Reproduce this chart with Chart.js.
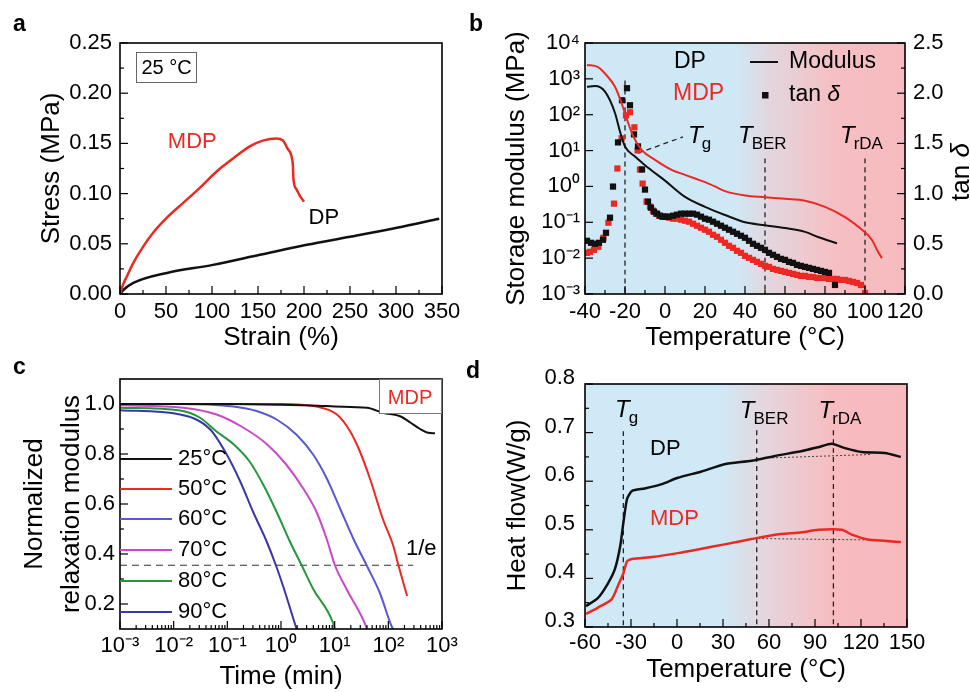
<!DOCTYPE html>
<html>
<head>
<meta charset="utf-8">
<title>Mechanical and thermal data</title>
<script src="https://cdn.jsdelivr.net/npm/chart.js@4.4.1/dist/chart.umd.min.js"></script>
<style>
  html, body { margin: 0; padding: 0; background: #fff; }
  #page { position: relative; width: 970px; height: 692px; overflow: hidden; }
  #page canvas { position: absolute; left: 0; top: 0; }
</style>
</head>
<body>
<div id="page">
  <canvas id="chartA" width="970" height="692"></canvas>
  <canvas id="chartB" width="970" height="692"></canvas>
  <canvas id="chartC" width="970" height="692"></canvas>
  <canvas id="chartD" width="970" height="692"></canvas>
</div>
<script>
// ---------- a: stress-strain at 25 C ----------
const mdpStrain = [0, 3.6, 7.2, 14.5, 25, 36, 51, 69, 87, 105, 123, 141, 156, 170, 177, 182, 187, 188, 188.5, 192, 196, 200];
const mdpStress = [0, 0.010, 0.017, 0.031, 0.047, 0.061, 0.076, 0.091, 0.106, 0.122, 0.135, 0.147, 0.153, 0.155, 0.153, 0.145, 0.135, 0.127, 0.115, 0.104, 0.097, 0.092];
const dpStrain = [0, 3.6, 14.5, 51, 101, 152, 203, 250, 301, 347];
const dpStress = [0, 0.004, 0.011, 0.021, 0.029, 0.039, 0.049, 0.057, 0.066, 0.075];

// ---------- b: DMA, storage modulus (MPa) and tan delta ----------
const dpModT = [-39, -35, -30, -25, -22.5, -20, -15, -11.5, -6.5, 0, 10, 20, 30, 40, 50, 60, 70, 76.5, 86];
const dpMod = [600, 630, 440, 112, 34, 13, 6.8, 4.6, 2.75, 1.45, 0.51, 0.27, 0.16, 0.10, 0.083, 0.069, 0.054, 0.039, 0.026];
const mdpModT = [-39, -33.5, -30, -25, -21.7, -19.2, -15.8, -11.7, -5, 3.3, 10, 15, 20, 25, 30, 40, 50, 60, 70, 80, 90, 98.5, 103.5, 106.5, 108.5];
const mdpMod = [2450, 2140, 1410, 600, 209, 79, 24.5, 10.5, 5.5, 2.9, 2.1, 1.66, 1.32, 1.0, 0.74, 0.56, 0.50, 0.45, 0.40, 0.27, 0.14, 0.062, 0.032, 0.015, 0.010];
const dpTanT = [-39, -37, -35, -33, -31, -29.5, -27.5, -26, -23.5, -21.5, -19, -17.5, -15.5, -13.5, -11.5, -10, -8.5, -7, -5.5, -4, -2.5, -1, 0.5,
  2, 4, 6, 8, 10, 12, 14, 16, 18, 20, 22, 24, 26, 28, 30, 32, 34, 36, 38, 40, 42, 44, 46, 48, 50, 52, 54, 56, 58, 60, 62, 64, 66, 68, 70, 72, 74, 76, 78, 80, 82, 85];
const dpTan = [0.53, 0.51, 0.50, 0.51, 0.54, 0.61, 0.76, 1.07, 1.51, 1.93, 2.05, 1.88, 1.59, 1.47, 1.24, 1.04, 0.92, 0.86, 0.82, 0.80, 0.78, 0.77, 0.77,
  0.77, 0.78, 0.79, 0.80, 0.80, 0.80, 0.80, 0.79, 0.77, 0.75, 0.74, 0.72, 0.70, 0.68, 0.66, 0.64, 0.62, 0.60, 0.58, 0.56, 0.53, 0.50, 0.48, 0.46, 0.44, 0.41, 0.39, 0.37, 0.35, 0.34, 0.32, 0.31, 0.29, 0.28, 0.27, 0.26, 0.25, 0.24, 0.23, 0.22, 0.21, 0.09];
const mdpTanT = [-39, -37.5, -35.5, -33.3, -30.8, -28.3, -25.5, -23.8, -21.7, -19.5, -17.5, -15.3, -13.7, -12.5, -11.2, -9.2, -7.5, -6, -4.5, -3, -1.5, 0,
  2, 4, 6, 8, 10, 12, 14, 16, 18, 20, 22, 24, 26, 28, 30, 32, 34, 36, 38, 40, 42, 44, 46, 48, 50, 52, 54, 56, 58, 60,
  62, 64, 66, 68, 70, 72, 74, 76, 78, 80, 82, 84, 86, 88, 90, 92, 94, 96, 98, 100];
const mdpTan = [0.41, 0.42, 0.44, 0.47, 0.56, 0.71, 0.90, 1.25, 1.55, 1.78, 1.81, 1.66, 1.43, 1.24, 1.10, 0.92, 0.87, 0.83, 0.80, 0.78, 0.77, 0.77,
  0.76, 0.75, 0.75, 0.74, 0.73, 0.72, 0.70, 0.68, 0.66, 0.64, 0.62, 0.59, 0.57, 0.54, 0.51, 0.48, 0.46, 0.43, 0.41, 0.38,
  0.36, 0.34, 0.32, 0.30, 0.28, 0.27, 0.25, 0.24, 0.23, 0.22, 0.21, 0.20, 0.19, 0.18, 0.18, 0.17, 0.17, 0.16, 0.16, 0.16,
  0.15, 0.15, 0.15, 0.14, 0.14, 0.13, 0.12, 0.11, 0.09, 0.01];
const bGuideT = [-20, 50, 100];          // Tg, TBER, TrDA
const bGuideTop = [900, 6, 6];           // MPa
const bLeaderT = [-13.5, 9];
const bLeaderMod = [8.5, 24];

// ---------- c: stress relaxation of MDP ----------
const relaxLabels = ['25°C', '50°C', '60°C', '70°C', '80°C', '90°C'];
const relaxColors = ['#111111', '#ea2a22', '#5858d2', '#c84ac8', '#23983a', '#3838a4'];
const relaxTime = [
  [0.001, 0.01, 0.1, 1, 5, 10, 40, 80, 170, 260, 390, 550, 740],
  [0.001, 0.01, 0.1, 1, 4.6, 11, 19.5, 29.5, 45.7, 79, 123, 155, 224],
  [0.001, 0.01, 0.13, 0.35, 0.83, 1.95, 4.0, 7.1, 12.6, 22.4, 39.8, 69, 115, 123],
  [0.001, 0.015, 0.063, 0.2, 0.54, 1.26, 2.63, 4.6, 7.1, 10.2, 16.6, 33.9, 40],
  [0.001, 0.0132, 0.031, 0.063, 0.129, 0.26, 0.47, 0.83, 1.48, 2.45, 3.98, 9.3, 10],
  [0.001, 0.0132, 0.048, 0.098, 0.174, 0.30, 0.54, 0.81, 1.1, 1.95]
];
const relaxModulus = [
  [1.0, 1.0, 1.0, 0.997, 0.993, 0.99, 0.985, 0.965, 0.95, 0.925, 0.90, 0.885, 0.883],
  [1.0, 1.0, 1.0, 1.0, 0.99, 0.958, 0.89, 0.81, 0.70, 0.54, 0.434, 0.353, 0.232],
  [1.0, 1.0, 0.99, 0.972, 0.938, 0.877, 0.797, 0.703, 0.582, 0.46, 0.353, 0.246, 0.111, 0.10],
  [0.995, 0.985, 0.958, 0.905, 0.84, 0.757, 0.66, 0.568, 0.46, 0.353, 0.26, 0.138, 0.10],
  [0.985, 0.974, 0.945, 0.89, 0.84, 0.77, 0.676, 0.568, 0.448, 0.353, 0.26, 0.125, 0.10],
  [0.975, 0.958, 0.898, 0.797, 0.69, 0.57, 0.45, 0.353, 0.27, 0.10]
];
const eLineTime = [0.001, 290];
const eLineLevel = [0.355, 0.355];

// ---------- d: DSC heat flow ----------
const dscDpT = [-59.3, -51.5, -45, -40.4, -37, -35, -32.6, -29.3, -21, -10, 0.5, 16, 31, 48.6, 64, 81.6, 92, 101, 109.6, 120.7, 135.7, 146];
const dscDp = [0.343, 0.36, 0.39, 0.42, 0.467, 0.514, 0.563, 0.58, 0.585, 0.594, 0.607, 0.62, 0.635, 0.642, 0.652, 0.662, 0.67, 0.677, 0.668, 0.66, 0.658, 0.65];
const dscMdpT = [-59.3, -51.5, -42.6, -38.5, -35, -32.6, -29.3, -16.2, 0.5, 16, 31, 48.6, 64, 81.6, 92, 107.5, 114, 124.5, 146];
const dscMdp = [0.327, 0.34, 0.357, 0.385, 0.41, 0.435, 0.44, 0.444, 0.452, 0.461, 0.47, 0.481, 0.49, 0.495, 0.50, 0.50, 0.49, 0.48, 0.475];
const dpBaseT = [62, 127], dpBase = [0.648, 0.655];
const mdpBaseT = [53, 129], mdpBase = [0.482, 0.479];
const dGuideT = [-35, 52, 102];
const dGuideTop = [0.703, 0.705, 0.705];

// ---------- helpers ----------
const FONT = '"Liberation Sans", Arial, Helvetica, sans-serif';
const W = 970, H = 692;
const RED = '#ea2a22', BLACK = '#111111';
Chart.defaults.font.family = FONT;
Chart.defaults.color = '#000';

const SUP = { '0': '⁰', '1': '¹', '2': '²', '3': '³', '4': '⁴', '5': '⁵', '6': '⁶', '7': '⁷', '8': '⁸', '9': '⁹', '-': '⁻' };
const pow10 = v => '10' + String(Math.round(Math.log10(v))).split('').map(c => SUP[c]).join('');
const pts = (xs, ys) => xs.map((x, i) => ({ x, y: ys[i] }));
const decades = (a, b) => { const out = []; for (let e = a; e <= b; e++) out.push(Math.pow(10, e)); return out; };
const logMinor = (a, b) => { const out = []; for (let e = a; e < b; e++) for (let m = 2; m <= 9; m++) out.push(m * Math.pow(10, e)); return out; };
const steps = (a, b, s) => { const out = []; for (let v = a; v <= b + 1e-9; v += s) out.push(+v.toFixed(4)); return out; };

const fixW = w => s => { s.width = w; s.paddingTop = 0; s.paddingBottom = 0; };
const fixH = h => s => { s.height = h; s.paddingLeft = 0; s.paddingRight = 0; };
const setTicks = vals => s => { s.ticks = vals.map(v => ({ value: v })); };
const off = () => ({ grid: { display: false, drawTicks: false }, border: { display: false } });

function text(ctx, str, x, y, o = {}) {
  ctx.font = `${o.style || ''} ${o.size || 22}px ${FONT}`;
  ctx.fillStyle = o.color || '#000';
  ctx.textAlign = o.align || 'left';
  ctx.textBaseline = o.base || 'middle';
  ctx.fillText(str, x, y);
}
function tLabel(ctx, x, y, sub) {
  text(ctx, 'T', x, y, { style: 'italic', size: 24, base: 'alphabetic' });
  const w = ctx.measureText('T').width;
  text(ctx, sub, x + w - 1, y + 6, { size: 17, base: 'alphabetic' });
}

function baseOptions(pad, scales) {
  return {
    responsive: false, animation: false, devicePixelRatio: 1,
    layout: { padding: pad },
    plugins: { legend: { display: false }, tooltip: { enabled: false } },
    elements: { point: { radius: 0 }, line: { cubicInterpolationMode: 'monotone' } },
    scales
  };
}

// frame box plus inward major / minor tick marks
function framePlugin(minor) {
  return {
    id: 'frame',
    afterDraw(chart) {
      const { ctx, chartArea: a } = chart;
      ctx.save();
      ctx.strokeStyle = '#000';
      ctx.lineWidth = 1.2;
      Object.values(chart.scales).forEach(s => {
        const mark = (v, len) => {
          const p = s.getPixelForValue(v);
          ctx.beginPath();
          if (s.isHorizontal()) { ctx.moveTo(p, a.bottom); ctx.lineTo(p, a.bottom - len); }
          else if (s.position === 'left') { ctx.moveTo(a.left, p); ctx.lineTo(a.left + len, p); }
          else { ctx.moveTo(a.right, p); ctx.lineTo(a.right - len, p); }
          ctx.stroke();
        };
        s.ticks.forEach(t => mark(t.value, 8));
        (minor[s.id] || []).forEach(v => mark(v, 4));
      });
      ctx.lineWidth = 1.6;
      ctx.strokeRect(a.left, a.top, a.width, a.height);
      ctx.restore();
    }
  };
}
function bgPlugin(stops) {
  return {
    id: 'bg',
    beforeDatasetsDraw(chart) {
      const { ctx, chartArea: a } = chart;
      const g = ctx.createLinearGradient(a.left, 0, a.right, 0);
      stops.forEach(([p, c]) => g.addColorStop(p, c));
      ctx.save();
      ctx.fillStyle = g;
      ctx.fillRect(a.left, a.top, a.width, a.height);
      ctx.restore();
    }
  };
}
const dashed = (data, yAxisID) => ({ data, yAxisID, borderColor: '#222', borderWidth: 1.3, borderDash: [5, 4], pointRadius: 0, order: 9 });

// ---------- chart a ----------
new Chart(document.getElementById('chartA'), {
  type: 'line',
  data: {
    datasets: [
      { data: pts(mdpStrain, mdpStress), borderColor: RED, borderWidth: 2.5 },
      { data: pts(dpStrain, dpStress), borderColor: BLACK, borderWidth: 2.5 }
    ]
  },
  options: baseOptions({ left: 0, top: 43, right: W - 442, bottom: 0 }, {
    x: {
      type: 'linear', min: 0, max: 350, afterFit: fixH(H - 294), ...off(),
      ticks: { stepSize: 50, padding: 5, font: { size: 22 }, maxRotation: 0, autoSkip: false },
      title: { display: true, text: 'Strain (%)', font: { size: 26 }, padding: { bottom: H - 338 - 15.6 } }
    },
    y: {
      type: 'linear', min: 0, max: 0.25, afterFit: fixW(120), ...off(),
      ticks: { stepSize: 0.05, padding: 8, font: { size: 22 }, callback: v => v.toFixed(2) },
      title: { display: true, text: 'Stress (MPa)', font: { size: 26 }, padding: { top: 36.4 } }
    }
  }),
  plugins: [framePlugin({ x: steps(25, 325, 50), y: steps(0.025, 0.225, 0.05) }), {
    id: 'notesA',
    afterDraw(chart) {
      const { ctx, chartArea: a, scales: { x, y } } = chart;
      ctx.save();
      text(ctx, 'a', 13, 31, { style: 'bold', size: 23, base: 'alphabetic' });
      text(ctx, 'b', 469, 31, { style: 'bold', size: 23, base: 'alphabetic' });
      ctx.strokeStyle = '#666';
      ctx.lineWidth = 1;
      ctx.strokeRect(a.left + 16.5, a.top + 9.5, 60, 30);
      text(ctx, '25 °C', a.left + 46.5, a.top + 25, { size: 20, align: 'center' });
      text(ctx, 'MDP', x.getPixelForValue(52), y.getPixelForValue(0.151), { color: RED });
      text(ctx, 'DP', x.getPixelForValue(205), y.getPixelForValue(0.076));
      ctx.restore();
    }
  }]
});

// ---------- chart b ----------
new Chart(document.getElementById('chartB'), {
  type: 'line',
  data: {
    datasets: [
      { data: pts(dpModT, dpMod), yAxisID: 'y', borderColor: BLACK, borderWidth: 2, order: 0 },
      { data: pts(mdpModT, mdpMod), yAxisID: 'y', borderColor: RED, borderWidth: 2, order: 1 },
      { data: pts(dpTanT, dpTan), yAxisID: 'y1', showLine: false, pointStyle: 'rect', pointRadius: 4.4, backgroundColor: BLACK, borderWidth: 0, order: 2 },
      { data: pts(mdpTanT, mdpTan), yAxisID: 'y1', showLine: false, pointStyle: 'rect', pointRadius: 4.4, backgroundColor: RED, borderWidth: 0, order: 3 },
      ...bGuideT.map((t, i) => dashed(pts([t, t], [bGuideTop[i], 0.001]), 'y')),
      dashed(pts(bLeaderT, bLeaderMod), 'y')
    ]
  },
  options: baseOptions({ left: 485, top: 43, right: 0, bottom: 0 }, {
    x: {
      type: 'linear', min: -40, max: 120, afterFit: fixH(H - 294), ...off(),
      ticks: { stepSize: 20, padding: 5, font: { size: 22 }, maxRotation: 0, autoSkip: false },
      title: { display: true, text: 'Temperature (°C)', font: { size: 26 }, padding: { bottom: H - 338 - 15.6 } }
    },
    y: {
      type: 'logarithmic', position: 'left', min: 0.001, max: 10000, afterFit: fixW(100), ...off(),
      afterBuildTicks: setTicks(decades(-3, 4)),
      ticks: { padding: 5, font: { size: 22 }, callback: v => pow10(v), autoSkip: false },
      title: { display: true, text: 'Storage modulus (MPa)', font: { size: 26 }, padding: { top: 16.4 } }
    },
    y1: {
      type: 'linear', position: 'right', min: 0, max: 2.5, afterFit: fixW(W - 905), ...off(),
      ticks: { stepSize: 0.5, padding: 8, font: { size: 22 }, callback: v => v.toFixed(1) }
    }
  }),
  plugins: [
    bgPlugin([[0, '#cfe8f5'], [0.47, '#cfe8f5'], [0.57, '#e2d7df'], [0.78, '#f6bfc3'], [1, '#f6bbbf']]),
    framePlugin({ x: steps(-30, 110, 20), y1: steps(0.25, 2.25, 0.5) }),
    {
      id: 'notesB',
      afterDraw(chart) {
        const { ctx, chartArea: a, scales: { x, y } } = chart;
        ctx.save();
        tLabel(ctx, x.getPixelForValue(11.5), y.getPixelForValue(16), 'g');
        tLabel(ctx, x.getPixelForValue(36.5), y.getPixelForValue(16), 'BER');
        tLabel(ctx, x.getPixelForValue(87.5), y.getPixelForValue(16), 'rDA');
        // legend
        text(ctx, 'DP', a.left + 89, a.top + 19, { size: 23 });
        text(ctx, 'MDP', a.left + 88, a.top + 51, { size: 23, color: RED });
        ctx.strokeStyle = BLACK; ctx.lineWidth = 2;
        ctx.beginPath(); ctx.moveTo(a.left + 165, a.top + 19); ctx.lineTo(a.left + 193, a.top + 19); ctx.stroke();
        text(ctx, 'Modulus', a.left + 204, a.top + 19, { size: 23 });
        ctx.fillStyle = BLACK;
        ctx.fillRect(a.left + 177, a.top + 49, 6.5, 6.5);
        text(ctx, 'tan ', a.left + 204, a.top + 52, { size: 23 });
        const tw = ctx.measureText('tan ').width;
        text(ctx, 'δ', a.left + 204 + tw, a.top + 52, { size: 23, style: 'italic' });
        // right axis title, read bottom to top
        ctx.translate(962, 172);
        ctx.rotate(-Math.PI / 2);
        ctx.font = `26px ${FONT}`;
        const w1 = ctx.measureText('tan ').width;
        ctx.font = `italic 26px ${FONT}`;
        const w2 = ctx.measureText('δ').width;
        text(ctx, 'tan ', -(w1 + w2) / 2, 0, { size: 26 });
        text(ctx, 'δ', -(w1 + w2) / 2 + w1, 0, { size: 26, style: 'italic' });
        ctx.restore();
      }
    }
  ]
});

// ---------- chart c ----------
new Chart(document.getElementById('chartC'), {
  type: 'line',
  data: {
    datasets: [
      ...relaxTime.map((ts, i) => ({ label: relaxLabels[i], data: pts(ts, relaxModulus[i]), borderColor: relaxColors[i], borderWidth: 2 })),
      { data: pts(eLineTime, eLineLevel), borderColor: '#333', borderWidth: 1.2, borderDash: [7, 5] }
    ]
  },
  options: baseOptions({ left: 0, top: 379, right: W - 442, bottom: 0 }, {
    x: {
      type: 'logarithmic', min: 0.001, max: 1000, afterFit: fixH(H - 629), ...off(),
      afterBuildTicks: setTicks(decades(-3, 3)),
      ticks: { padding: 4, font: { size: 22 }, callback: v => pow10(v), maxRotation: 0, autoSkip: false },
      title: { display: true, text: 'Time (min)', font: { size: 26 }, padding: { bottom: 0 } }
    },
    y: {
      type: 'linear', min: 0.1, max: 1.1, afterFit: fixW(120), ...off(),
      afterBuildTicks: setTicks([0.2, 0.4, 0.6, 0.8, 1.0]),
      ticks: { padding: 5, font: { size: 22 }, callback: v => v.toFixed(1) },
      title: { display: true, text: ['Normalized', 'relaxation modulus'], font: { size: 26, lineHeight: 1.423 }, padding: { top: 16.5 } }
    }
  }),
  plugins: [framePlugin({ x: logMinor(-3, 3), y: [0.3, 0.5, 0.7, 0.9] }), {
    id: 'notesC',
    afterDraw(chart) {
      const { ctx, chartArea: a, scales: { x, y } } = chart;
      ctx.save();
      text(ctx, 'c', 13, 374, { style: 'bold', size: 23, base: 'alphabetic' });
      text(ctx, 'd', 466, 378, { style: 'bold', size: 23, base: 'alphabetic' });
      const rows = [80, 110, 140, 171, 202, 233];
      relaxLabels.forEach((lab, i) => {
        ctx.strokeStyle = relaxColors[i]; ctx.lineWidth = 2;
        ctx.beginPath(); ctx.moveTo(a.left, a.top + rows[i]); ctx.lineTo(a.left + 52, a.top + rows[i]); ctx.stroke();
        text(ctx, lab, a.left + 58, a.top + rows[i]);
      });
      ctx.fillStyle = '#fff';
      ctx.fillRect(a.right - 63, a.top, 62, 34);
      ctx.strokeStyle = '#777'; ctx.lineWidth = 1;
      ctx.strokeRect(a.right - 62.5, a.top + 0.5, 62, 34);
      text(ctx, 'MDP', a.right - 32, a.top + 19, { size: 20, align: 'center', color: RED });
      text(ctx, '1/e', x.getPixelForValue(410), y.getPixelForValue(0.42), { align: 'center' });
      ctx.restore();
    }
  }]
});

// ---------- chart d ----------
new Chart(document.getElementById('chartD'), {
  type: 'line',
  data: {
    datasets: [
      { data: pts(dscDpT, dscDp), borderColor: BLACK, borderWidth: 2.5, cubicInterpolationMode: 'default', tension: 0.2 },
      { data: pts(dscMdpT, dscMdp), borderColor: RED, borderWidth: 2.5, cubicInterpolationMode: 'default', tension: 0.2 },
      { data: pts(dpBaseT, dpBase), borderColor: '#444', borderWidth: 1, borderDash: [2, 2] },
      { data: pts(mdpBaseT, mdpBase), borderColor: '#444', borderWidth: 1, borderDash: [2, 2] },
      ...dGuideT.map((t, i) => dashed(pts([t, t], [dGuideTop[i], 0.3]), 'y'))
    ]
  },
  options: baseOptions({ left: 485, top: 384, right: W - 907, bottom: 0 }, {
    x: {
      type: 'linear', min: -60, max: 150, afterFit: fixH(H - 627), ...off(),
      ticks: { stepSize: 30, padding: 3, font: { size: 22 }, maxRotation: 0, autoSkip: false },
      title: { display: true, text: 'Temperature (°C)', font: { size: 26 }, padding: { bottom: H - 670 - 15.6 } }
    },
    y: {
      type: 'linear', min: 0.3, max: 0.8, afterFit: fixW(100), ...off(),
      ticks: { stepSize: 0.1, padding: 10, labelOffset: -6, font: { size: 22 }, callback: v => v.toFixed(1) },
      title: { display: true, text: 'Heat flow(W/g)', font: { size: 26 }, padding: { top: 17.4 } }
    }
  }),
  plugins: [
    bgPlugin([[0, '#cfe9f6'], [0.42, '#cfe9f6'], [0.55, '#e4d7df'], [0.77, '#f7bcc0'], [1, '#f7b9bd']]),
    framePlugin({ x: steps(-45, 135, 30), y: steps(0.35, 0.75, 0.1) }),
    {
      id: 'notesD',
      afterDraw(chart) {
        const { ctx, scales: { x, y } } = chart;
        ctx.save();
        tLabel(ctx, x.getPixelForValue(-40.4), y.getPixelForValue(0.732), 'g');
        tLabel(ctx, x.getPixelForValue(41), y.getPixelForValue(0.73), 'BER');
        tLabel(ctx, x.getPixelForValue(92.3), y.getPixelForValue(0.73), 'rDA');
        text(ctx, 'DP', x.getPixelForValue(-17.6), y.getPixelForValue(0.666));
        text(ctx, 'MDP', x.getPixelForValue(-17.6), y.getPixelForValue(0.522), { color: RED });
        ctx.restore();
      }
    }
  ]
});
</script>
</body>
</html>
